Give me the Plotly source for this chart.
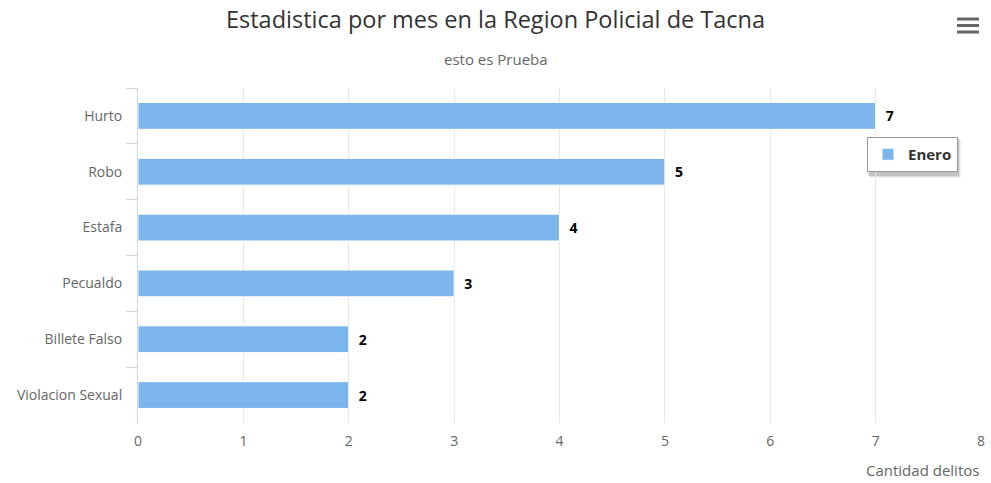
import plotly.graph_objects as go

# Crime counts by type for the month shown
categorias = ["Hurto", "Robo", "Estafa", "Pecualdo", "Billete Falso", "Violacion Sexual"]
enero = [7, 5, 4, 3, 2, 2]
x_ticks = [0, 1, 2, 3, 4, 5, 6, 7, 8]

W, H = 991, 483
ML, MR, MT, MB = 138, 10, 88, 60
FONT = "Open Sans, Noto Sans, sans-serif"


def px_x(x):
    return (x - ML) / (W - ML - MR)


def px_y(y):
    return (H - MB - y) / (H - MT - MB)


fig = go.Figure()
fig.add_trace(go.Bar(
    y=categorias,
    x=enero,
    orientation="h",
    name="Enero",
    marker=dict(color="#7cb5ec", line=dict(color="#ffffff", width=1)),
    texttemplate="\u2002%{x}",
    textposition="outside",
    textfont=dict(family=FONT, size=14, color="#000000", weight="bold"),
    cliponaxis=False,
    hoverinfo="x+y",
))

shapes = []
# soft legend drop shadow
for off, alpha in ((3, 0.05), (2, 0.08), (1, 0.12)):
    shapes.append(dict(type="rect", xref="paper", yref="paper",
                       x0=px_x(867 + off), x1=px_x(958 + off),
                       y0=px_y(175 + off), y1=px_y(137 + off),
                       fillcolor=f"rgba(0,0,0,{alpha})", line=dict(width=0), layer="below"))
# export menu icon
for yy in (19, 25.5, 32):
    shapes.append(dict(type="line", xref="paper", yref="paper",
                       x0=px_x(957), x1=px_x(979), y0=px_y(yy), y1=px_y(yy),
                       line=dict(color="#666666", width=3)))

fig.update_layout(
    width=W, height=H,
    margin=dict(l=ML, r=MR, t=MT, b=MB, autoexpand=False),
    paper_bgcolor="#ffffff",
    plot_bgcolor="#ffffff",
    font=dict(family=FONT, color="#666666", size=14),
    bargap=0.52,
    title=dict(
        text="Estadistica por mes en la Region Policial de Tacna",
        x=0.5, xref="container", xanchor="center",
        y=1 - 20 / H, yref="container", yanchor="middle",
        font=dict(family=FONT, size=23.5, color="#333333"),
    ),
    showlegend=True,
    legend=dict(
        x=px_x(867), y=px_y(137), xanchor="left", yanchor="top",
        bgcolor="#ffffff", bordercolor="#999999", borderwidth=1,
        font=dict(family=FONT, size=15, color="#333333", weight="bold"),
    ),
    xaxis=dict(
        range=[0, 8],
        tickvals=x_ticks,
        showgrid=True, gridcolor="#e6e6e6", gridwidth=1,
        zeroline=False, showline=False, ticks="",
        ticklabelstandoff=8, automargin=False,
        tickfont=dict(family=FONT, size=14, color="#666666"),
        fixedrange=True,
    ),
    yaxis=dict(
        categoryorder="array", categoryarray=categorias,
        autorange="reversed",
        showgrid=False, zeroline=False,
        showline=True, linecolor="#ccd6eb", linewidth=1,
        ticks="outside", tickson="boundaries", ticklen=11, tickcolor="#ccd6eb",
        ticklabelstandoff=12, automargin=False,
        tickfont=dict(family=FONT, size=14, color="#666666"),
        fixedrange=True,
    ),
    shapes=shapes,
    annotations=[
        dict(text="esto es Prueba", xref="paper", yref="paper",
             x=px_x(W / 2), y=px_y(59), xanchor="center", yanchor="middle",
             showarrow=False, font=dict(family=FONT, size=15, color="#666666")),
        dict(text="Cantidad delitos", xref="paper", yref="paper",
             x=1, y=px_y(470), xanchor="right", yanchor="middle",
             showarrow=False, font=dict(family=FONT, size=15, color="#666666")),
    ],
)

fig.write_html("out.html")
